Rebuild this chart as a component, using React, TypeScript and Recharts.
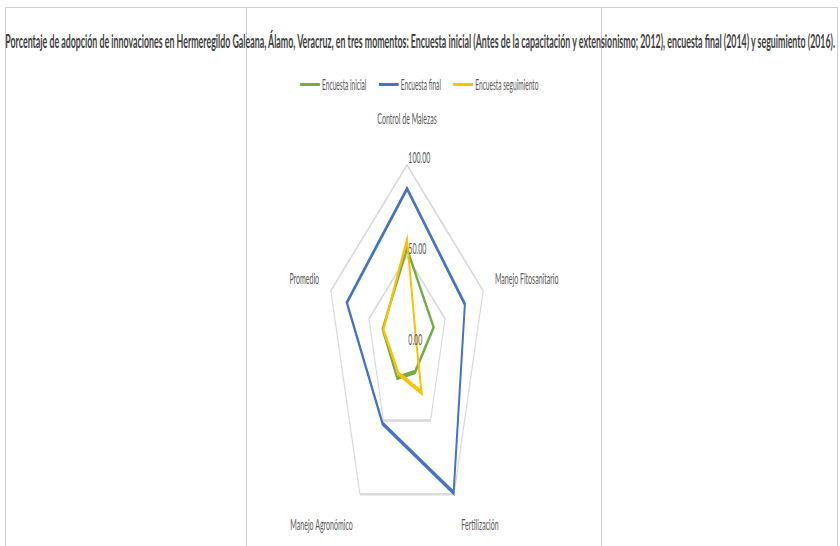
import React from 'react';
import { RadarChart, Radar, PolarGrid, PolarAngleAxis, PolarRadiusAxis, Legend } from 'recharts';

const categories = ['Control de Malezas', 'Manejo Fitosanitario', 'Fertilización', 'Manejo Agronómico', 'Promedio'];
const seriesNames = ['Encuesta inicial', 'Encuesta final', 'Encuesta seguimiento'];
const inicial = [54, 35, 17, 21, 32];
const final = [87, 76, 99, 52, 79];
const seguimiento = [59, 12, 31, 18, 31];
const radiusTicks = [0, 50, 100];

const title =
  'Porcentaje de adopción de innovaciones en Hermeregildo Galeana, Álamo, Veracruz, en tres momentos: Encuesta inicial (Antes de la capacitación y extensionismo; 2012), encuesta final (2014) y seguimiento (2016).';

const data = categories.map((c, i) => ({
  subject: c,
  inicial: inicial[i],
  final: final[i],
  seguimiento: seguimiento[i],
}));

// the source picture is squeezed horizontally, so the chart is drawn wide and scaled down
const SX = 0.44;
const W = 1909;
const H = 546;
const CX = 925;
const CY = 347;
const R = 182;
const FONT = 'Lato, "Open Sans", sans-serif';
const TEXT = '#595959';
const GRID = '#d9d9d9';

const AngleTick = (props: any) => {
  const { x, y, payload } = props;
  const dx = x - CX;
  const dy = y - CY;
  const len = Math.hypot(dx, dy) || 1;
  const ux = dx / len;
  const uy = dy / len;
  const anchor = ux > 0.2 ? 'start' : ux < -0.2 ? 'end' : 'middle';
  const shift = uy < -0.9 ? -19 : uy > 0.5 ? 7 : -4;
  return (
    <text x={x} y={y + shift} textAnchor={anchor} dominantBaseline="central" fill={TEXT} fontSize={16} fontFamily={FONT}>
      {payload.value}
    </text>
  );
};

const RadiusTick = (props: any) => {
  const { x, y, payload } = props;
  return (
    <text x={x + 3} y={y - 8} textAnchor="start" dominantBaseline="central" fill={TEXT} fontSize={16} fontFamily={FONT}>
      {Number(payload.value).toFixed(2)}
    </text>
  );
};

const renderLegend = (props: any) => {
  const items = [...(props.payload || [])].sort(
    (a: any, b: any) => seriesNames.indexOf(a.value) - seriesNames.indexOf(b.value)
  );
  return (
    <div style={{ display: 'flex', alignItems: 'center', fontSize: 15, color: TEXT, fontFamily: FONT, lineHeight: '18px' }}>
      {items.map((p: any, i: number) => (
        <div key={i} style={{ display: 'flex', alignItems: 'center', marginRight: 28 }}>
          <span style={{ display: 'inline-block', width: 45, height: 0, borderTop: `3px solid ${p.color}`, marginRight: 5 }} />
          <span>{p.value}</span>
        </div>
      ))}
    </div>
  );
};

const frameLine = (style: React.CSSProperties) => (
  <div style={{ position: 'absolute', background: '#cfcfcf', ...style }} />
);

export default function App() {
  return (
    <div style={{ position: 'absolute', left: 0, top: 0, width: 840, height: 546, overflow: 'hidden', background: '#fff' }}>
      {frameLine({ left: 5, top: 7, width: 833, height: 1 })}
      {frameLine({ left: 5, top: 7, width: 1, height: 539 })}
      {frameLine({ left: 837, top: 7, width: 1, height: 539 })}
      {frameLine({ left: 246, top: 7, width: 1, height: 539 })}
      {frameLine({ left: 601, top: 7, width: 1, height: 539 })}

      <div style={{ position: 'absolute', left: 0, top: 0, width: W, height: H, transform: `scaleX(${SX})`, transformOrigin: '0 0' }}>
        <svg width={W} height={60} style={{ position: 'absolute', left: 0, top: 0 }}>
          <text
            x={955}
            y={41}
            textAnchor="middle"
            dominantBaseline="central"
            fontFamily={FONT}
            fontSize={18}
            fontWeight="bold"
            fill="#404040"
            textLength={1886}
            lengthAdjust="spacingAndGlyphs"
          >
            {title}
          </text>
        </svg>
        <div style={{ position: 'absolute', left: 0, top: 0 }}>
          <RadarChart
            width={W}
            height={H}
            data={data}
            cx={CX}
            cy={CY}
            outerRadius={R}
            margin={{ top: 0, right: 0, bottom: 0, left: 0 }}
          >
            <PolarGrid gridType="polygon" radialLines={false} stroke={GRID} strokeWidth={2.5} />
            <PolarAngleAxis dataKey="subject" tick={<AngleTick />} tickLine={false} axisLine={false} tickSize={28} />
            <PolarRadiusAxis
              angle={90}
              domain={[0, 100]}
              ticks={radiusTicks as any}
              tickCount={3}
              axisLine={false}
              tickLine={false}
              tick={<RadiusTick />}
            />
            <Radar name={seriesNames[0]} dataKey="inicial" stroke="#70ad47" strokeWidth={4.5} fill="none" fillOpacity={0} dot={false} isAnimationActive={false} />
            <Radar name={seriesNames[1]} dataKey="final" stroke="#4472c4" strokeWidth={4.5} fill="none" fillOpacity={0} dot={false} isAnimationActive={false} />
            <Radar name={seriesNames[2]} dataKey="seguimiento" stroke="#ffc000" strokeWidth={4.5} fill="none" fillOpacity={0} dot={false} isAnimationActive={false} />
            <Legend
              layout="horizontal"
              verticalAlign="middle"
              content={renderLegend}
              wrapperStyle={{ top: 75, left: 682, width: 700 }}
            />
          </RadarChart>
        </div>
      </div>
    </div>
  );
}
